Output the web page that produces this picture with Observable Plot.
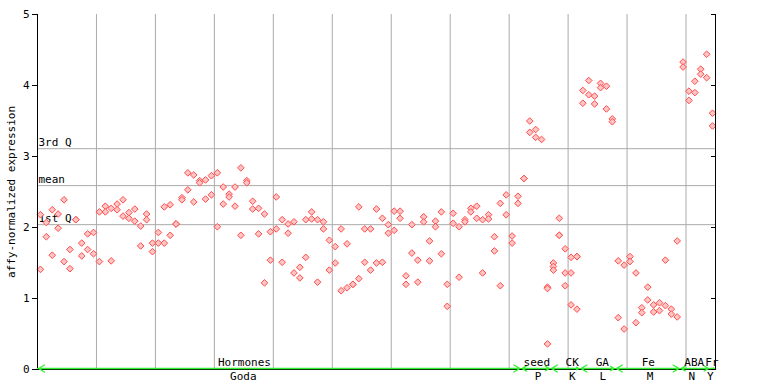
<!DOCTYPE html>
<html><head><meta charset="utf-8">
<script src="https://cdn.jsdelivr.net/npm/d3@7"></script>
<script src="https://cdn.jsdelivr.net/npm/@observablehq/plot@0.6"></script>
<style>body{margin:0;background:#fff}</style>
</head><body><div id="chart"></div>
<script>
// sample index of every point (two or three replicates per sample)
const pointSample = [
0,0,1,1,2,2,3,3,4,4,5,5,6,6,7,7,8,8,9,9,
10,10,11,11,12,12,13,13,14,14,15,15,16,16,17,17,18,18,19,19,
20,20,21,21,22,22,23,23,24,24,25,25,26,26,27,27,28,28,29,29,
30,30,31,31,32,32,33,33,34,34,35,35,36,36,37,37,38,38,39,39,
40,40,41,41,42,42,43,43,44,44,45,45,46,46,47,47,48,48,49,49,
50,50,51,51,52,52,53,53,54,54,55,55,56,56,57,57,58,58,59,59,
60,60,61,61,62,62,63,63,64,64,65,65,66,66,67,67,68,68,69,69,
70,70,71,71,72,72,73,73,74,74,75,75,76,76,77,77,78,78,79,79,
80,80,81,81,82,82,83,83,84,84,85,86,86,86,87,87,87,88,88,88,
89,89,89,90,90,90,91,91,91,92,92,93,93,94,94,95,95,96,96,97,97,
98,98,99,99,100,100,101,101,102,102,103,103,104,104,105,105,106,106,107,107,108,108,
109,109,110,110,111,111,112,112,113,113,114,114];
// affy-normalized expression of every point
const pointValue = [
2.18,1.41,2.07,1.87,2.25,1.61,2.19,1.99,2.39,1.52,1.69,1.42,2.11,2.11,1.78,1.60,1.91,1.69,1.93,1.63,
2.22,1.52,2.30,2.22,2.27,1.53,2.33,2.25,2.39,2.16,2.21,2.13,2.26,2.09,2.02,1.74,2.19,2.11,1.78,1.66,
1.93,1.78,2.29,1.78,2.32,1.89,2.05,2.05,2.42,2.39,2.77,2.53,2.74,2.36,2.66,2.63,2.67,2.40,2.73,2.46,
2.77,2.01,2.57,2.33,2.47,2.43,2.57,2.30,2.84,1.89,2.66,2.63,2.37,2.26,2.27,1.91,2.19,1.22,1.94,1.54,
2.43,1.98,2.11,1.51,2.05,1.92,2.08,1.36,1.44,1.29,2.11,1.58,2.22,2.12,2.11,1.23,2.08,1.98,1.82,1.40,
1.73,1.50,1.98,1.11,1.77,1.15,1.20,1.20,2.29,1.28,1.98,1.51,1.98,1.40,2.26,1.50,2.13,1.51,2.04,1.92,
2.23,1.96,2.23,2.13,1.32,1.20,2.04,1.64,1.54,1.23,2.15,2.08,1.81,1.53,2.09,2.01,2.22,1.63,1.20,0.89,
2.20,2.06,2.01,1.30,2.11,2.08,2.27,2.22,2.30,2.13,2.11,1.36,2.18,2.12,1.87,1.67,2.34,1.18,2.46,2.18,
1.88,1.78,2.44,2.34,2.69,2.69,3.50,3.34,3.38,3.27,3.24,1.16,1.14,0.36,1.50,1.45,1.40,2.13,1.89,1.89,
1.70,1.36,1.18,1.58,1.36,0.91,1.59,1.59,0.85,3.93,3.75,4.07,3.87,3.85,3.74,4.03,3.97,3.99,3.67,3.53,3.49,
1.53,0.73,1.47,0.57,1.59,1.52,1.36,0.66,0.87,0.80,1.16,0.98,0.91,0.81,0.94,0.83,1.54,0.90,0.85,0.78,1.81,0.74,
4.33,4.26,3.92,3.79,4.06,3.90,4.23,4.16,4.44,4.11,3.61,3.43];

const sampleCount = 115;
const gridSamples = [10,20,30,40,50,60,70,80,90,100,110];
const yTicks = [0,1,2,3,4,5];
const statNames = ["3rd Q","mean","1st Q"];
const statValues = [3.11,2.59,2.04];

const groupNames = ["Hormones","seed","CK","GA","Fe","ABA","Fr"];
const groupStart = [0,82,87,92,98,109,114];
const groupEnd   = [82,87,92,98,109,114,115];
const groupLabelAt = [35.1,84.7,90.7,95.8,103.6,111.4,114.4];
const expNames = ["Goda","P","K","L","M","N","Y"];
const expLabelAt = [34.9,84.9,90.7,95.9,103.9,111.0,114.1];

const points = pointSample.map((s,i)=>({x:s+0.5, y:pointValue[i]}));
const groups = groupNames.map((g,i)=>({name:g, a:groupStart[i], b:groupEnd[i], lx:groupLabelAt[i], exp:expNames[i], ex:expLabelAt[i]}));
const stats = statNames.map((n,i)=>({name:n, v:statValues[i]}));

const font = "DejaVu Sans Mono, monospace";
const green = "#33ee33";
const chart = Plot.plot({
  width: 768, height: 384,
  marginLeft: 37, marginRight: 53, marginTop: 14, marginBottom: 15,
  x: {domain:[0, sampleCount], axis: null},
  y: {domain:[0,5], axis: null},
  style: {fontFamily: font, fontSize: "11px", background: "white", overflow: "visible"},
  marks: [
    Plot.ruleX(gridSamples, {stroke:"#aaaaaa", strokeWidth:1}),
    Plot.ruleY(stats, {y:"v", stroke:"#aaaaaa", strokeWidth:1}),
    Plot.text(stats, {x:0, y:"v", text:"name", textAnchor:"start", dx:1, dy:-6, fill:"black", fontSize:11}),
    Plot.dot(points, {x:"x", y:"y", symbol:"diamond2", r:3, stroke:"#ff4d4d", strokeWidth:1, fill:"#ffc4c4"}),
    Plot.ruleX([0, sampleCount], {stroke:"black", strokeWidth:1}),
    Plot.ruleY([0], {stroke:"black", strokeWidth:1}),
    Plot.ruleY([0], {stroke:green, strokeWidth:1.2, dy:-1}),
    Plot.arrow(groups, {x1:"lx", x2:"a", y1:0, y2:0, dy:-1, stroke:green, headLength:8, headAngle:60, strokeWidth:1.3, insetEnd:1}),
    Plot.arrow(groups, {x1:"lx", x2:"b", y1:0, y2:0, dy:-1, stroke:green, headLength:8, headAngle:60, strokeWidth:1.3, insetEnd:1}),
    Plot.text(groups, {x:"lx", y:0, text:"name", dy:-7, fill:"black", fontSize:11}),
    Plot.text(groups, {x:"ex", y:0, text:"exp", dy:7, fill:"black", fontSize:11}),
    Plot.axisY(yTicks, {anchor:"left", tickSize:5, tickPadding:3, tickFormat:d=>String(d), label:null, fontSize:11}),
    Plot.axisY(yTicks, {anchor:"right", tickSize:-5, tickFormat:()=>"", label:null}),
    Plot.text(["affy-normalized expression"], {frameAnchor:"left", y:[2.5], rotate:-90, textAnchor:"middle", dx:-26, fontSize:11, fill:"black"})
  ]
});
document.getElementById("chart").appendChild(chart);
</script>
</body></html>
